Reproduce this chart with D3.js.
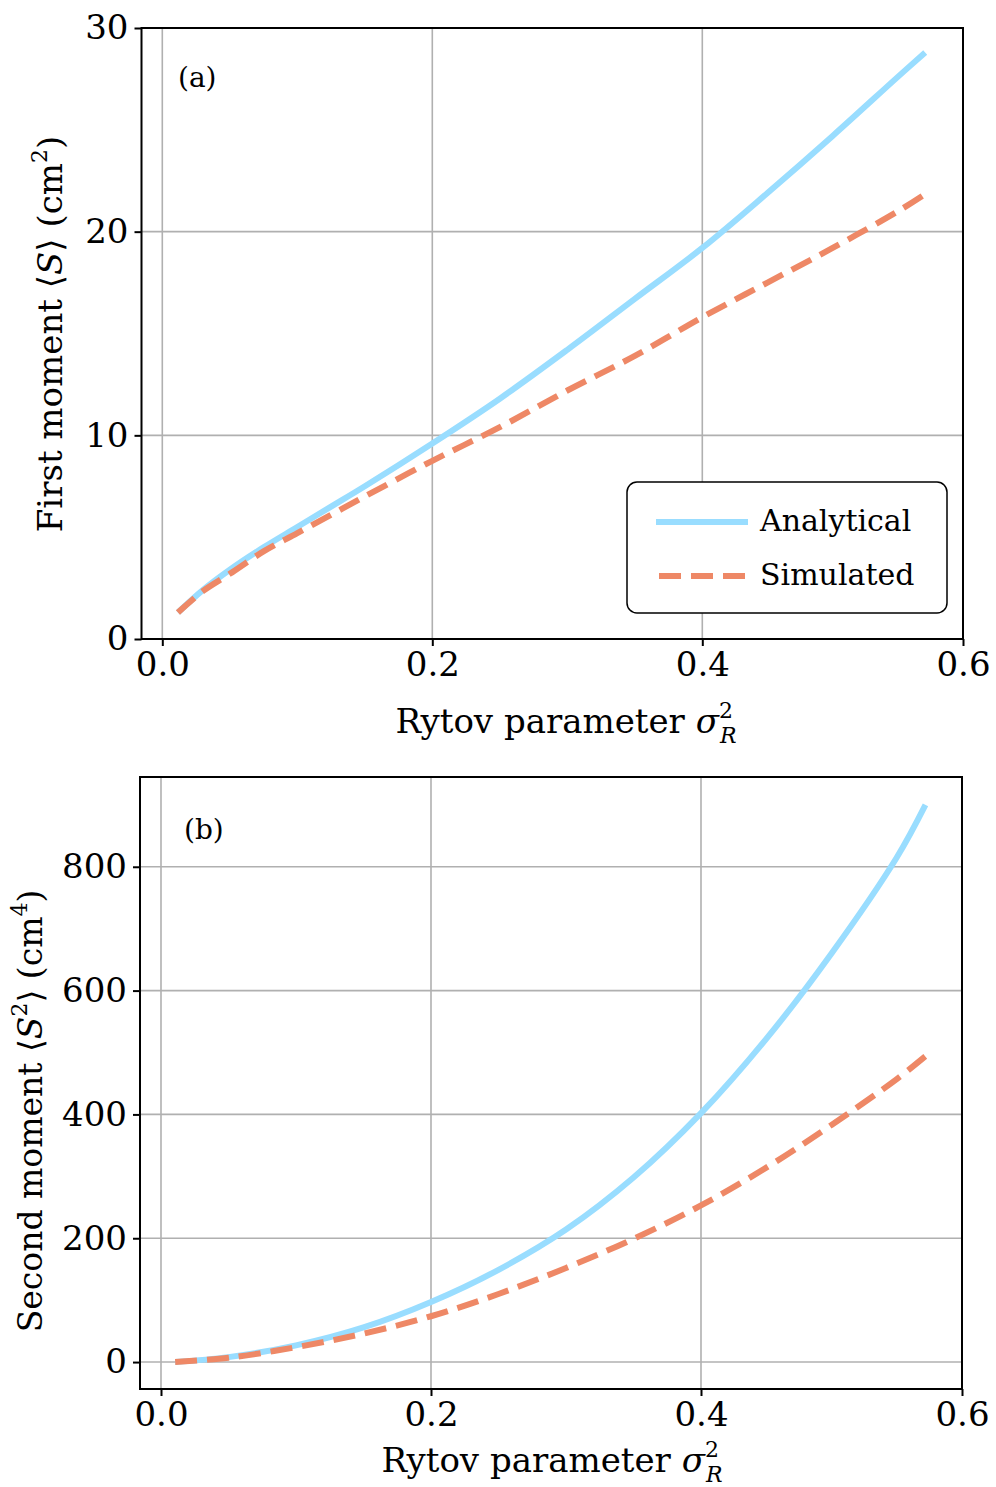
<!DOCTYPE html>
<html>
<head>
<meta charset="utf-8">
<script src="https://cdn.jsdelivr.net/npm/d3@7"></script>
<style>
  body { margin: 0; background: #fff; }
  text { font-family: "DejaVu Serif", serif; fill: #000; }
</style>
</head>
<body>
<div id="chart"></div>
<script>
// values
var rytovA = [0.0116, 0.03, 0.05, 0.075, 0.1, 0.125, 0.15, 0.2, 0.25, 0.3, 0.35, 0.4, 0.45, 0.5, 0.55, 0.571];
var firstAnalytical = [1.3, 2.4, 3.4, 4.5, 5.5, 6.5, 7.5, 9.6, 11.8, 14.2, 16.7, 19.2, 21.9, 24.7, 27.6, 28.8];
var firstSimulated  = [1.3, 2.35, 3.2, 4.3, 5.2, 6.1, 7.0, 8.75, 10.4, 12.2, 13.9, 15.8, 17.5, 19.2, 21.0, 21.85];

var rytovB = [0.0105, 0.05, 0.1, 0.15, 0.2, 0.25, 0.3, 0.35, 0.4, 0.45, 0.5, 0.55, 0.572];
var secondAnalytical = [0, 8, 27, 56, 97, 149, 214, 298, 402, 522, 660, 815, 900];
var secondSimulated  = [0, 7, 24, 46, 74, 110, 152, 199, 253, 314, 383, 457, 494];

var xTicks = [0.0, 0.2, 0.4, 0.6];
var yTicksA = [0, 10, 20, 30];
var yTicksB = [0, 200, 400, 600, 800];
var seriesNames = ["Analytical", "Simulated"];
var seriesColors = ["#99DDFF", "#EE8866"];

var width = 996, height = 1487;

var svg = d3.select("#chart")
    .append("svg")
    .attr("width", width)
    .attr("height", height);

/* draws one panel: box, grid, ticks, two curves */
function drawPanel(box, xs, ya, ys, yDomain, yTicks, tag) {
    var x = d3.scaleLinear()
        .domain([0, 0.2, 0.4, 0.6])
        .range(box.xr);
    var y = d3.scaleLinear()
        .domain(yDomain)
        .range([box.bottom, box.top]);

    var g = svg.append("g");

    // grid
    g.append("g").selectAll("line")
        .data(xTicks)
        .enter().append("line")
        .attr("x1", d => x(d)).attr("x2", d => x(d))
        .attr("y1", box.top).attr("y2", box.bottom)
        .attr("stroke", "#b0b0b0").attr("stroke-width", 1.6);
    g.append("g").selectAll("line")
        .data(yTicks)
        .enter().append("line")
        .attr("x1", box.left).attr("x2", box.right)
        .attr("y1", d => y(d)).attr("y2", d => y(d))
        .attr("stroke", "#b0b0b0").attr("stroke-width", 1.6);

    // curves
    var clipId = "clip" + tag;
    svg.append("clipPath").attr("id", clipId)
        .append("rect")
        .attr("x", box.left).attr("y", box.top)
        .attr("width", box.right - box.left).attr("height", box.bottom - box.top);

    var line = d3.line()
        .x(d => x(d[0]))
        .y(d => y(d[1]))
        .curve(d3.curveCatmullRom.alpha(0.5));

    var curves = g.append("g").attr("clip-path", "url(#" + clipId + ")");
    curves.append("path")
        .attr("d", line(xs.map((v, i) => [v, ya[i]])))
        .attr("fill", "none")
        .attr("stroke", seriesColors[0])
        .attr("stroke-width", 6);
    curves.append("path")
        .attr("d", line(xs.map((v, i) => [v, ys[i]])))
        .attr("fill", "none")
        .attr("stroke", seriesColors[1])
        .attr("stroke-width", 6)
        .attr("stroke-dasharray", "22,10");

    // axes
    var xAxis = d3.axisBottom(x).tickValues(xTicks).tickFormat(d3.format(".1f"))
        .tickSize(7).tickPadding(6);
    var yAxis = d3.axisLeft(y).tickValues(yTicks).tickFormat(d3.format("d"))
        .tickSize(7).tickPadding(6);

    var gx = g.append("g")
        .attr("transform", "translate(0," + box.bottom + ")")
        .call(xAxis);
    var gy = g.append("g")
        .attr("transform", "translate(" + box.left + ",0)")
        .call(yAxis);
    [gx, gy].forEach(function(a) {
        a.select(".domain").remove();
        a.selectAll("line").attr("stroke", "#000").attr("stroke-width", 2);
        a.selectAll("text")
            .style("font-family", "DejaVu Serif")
            .style("font-size", "34px")
            .attr("fill", "#000");
    });

    // frame
    g.append("rect")
        .attr("x", box.left).attr("y", box.top)
        .attr("width", box.right - box.left).attr("height", box.bottom - box.top)
        .attr("fill", "none")
        .attr("stroke", "#000").attr("stroke-width", 2);

    return {x: x, y: y, g: g};
}

var boxA = {left: 141.5, right: 963, top: 28, bottom: 639, xr: [162.3, 432.3, 702.3, 963]};
var boxB = {left: 140, right: 962, top: 777, bottom: 1389, xr: [161, 431, 701, 962]};

drawPanel(boxA, rytovA, firstAnalytical, firstSimulated, [0, 30], yTicksA, "A");
drawPanel(boxB, rytovB, secondAnalytical, secondSimulated, [-43.5, 945], yTicksB, "B");

/* panel tags */
svg.append("text").attr("x", 178).attr("y", 87)
    .style("font-size", "28px").text("(a)");
svg.append("text").attr("x", 184).attr("y", 839)
    .style("font-size", "28px").text("(b)");

/* x labels: Rytov parameter sigma_R^2 */
function xLabel(cx, by) {
    var t = svg.append("text")
        .attr("x", cx).attr("y", by)
        .attr("text-anchor", "middle")
        .style("font-size", "34px");
    t.append("tspan").text("Rytov parameter ");
    t.append("tspan").style("font-style", "italic").text("σ");
    t.append("tspan").attr("dy", -15).style("font-size", "22px").text("2");
    t.append("tspan").attr("dx", -13).attr("dy", 25).style("font-size", "22px")
        .style("font-style", "italic").text("R");
}
xLabel(566, 733);
xLabel(552, 1472);

/* y labels */
function yLabel(cx, cy, sup, lead, fs) {
    var t = svg.append("text")
        .attr("transform", "translate(" + cx + "," + cy + ") rotate(-90)")
        .attr("text-anchor", "middle")
        .style("font-size", fs + "px");
    t.append("tspan").text(lead + " moment ⟨");
    t.append("tspan").style("font-style", "italic").text("S");
    if (sup === "2") {
        t.append("tspan").attr("dy", -15).style("font-size", "22px").text("2");
        t.append("tspan").attr("dy", 15).text("⟩ (cm");
    } else {
        t.append("tspan").text("⟩ (cm");
    }
    t.append("tspan").attr("dy", -15).style("font-size", "22px").text(sup === "2" ? "4" : "2");
    t.append("tspan").attr("dy", 15).text(")");
}
yLabel(62, 334, "1", "First", 34);
yLabel(42, 1111, "2", "Second", 33);

/* legend (panel a) */
var leg = svg.append("g");
leg.append("rect")
    .attr("x", 627).attr("y", 482)
    .attr("width", 320).attr("height", 131)
    .attr("rx", 10).attr("ry", 10)
    .attr("fill", "#fff").attr("stroke", "#000").attr("stroke-width", 1.5);
leg.selectAll("line")
    .data(seriesNames)
    .enter().append("line")
    .attr("x1", (d, i) => i === 1 ? 659 : 656)
    .attr("x2", 748)
    .attr("y1", (d, i) => 522 + i * 54)
    .attr("y2", (d, i) => 522 + i * 54)
    .attr("stroke", (d, i) => seriesColors[i])
    .attr("stroke-width", 6)
    .attr("stroke-dasharray", (d, i) => i === 1 ? "22,10" : null);
leg.selectAll("text")
    .data(seriesNames)
    .enter().append("text")
    .attr("x", 760)
    .attr("y", (d, i) => 531 + i * 54)
    .style("font-size", "30px")
    .text(d => d);
</script>
</body>
</html>
